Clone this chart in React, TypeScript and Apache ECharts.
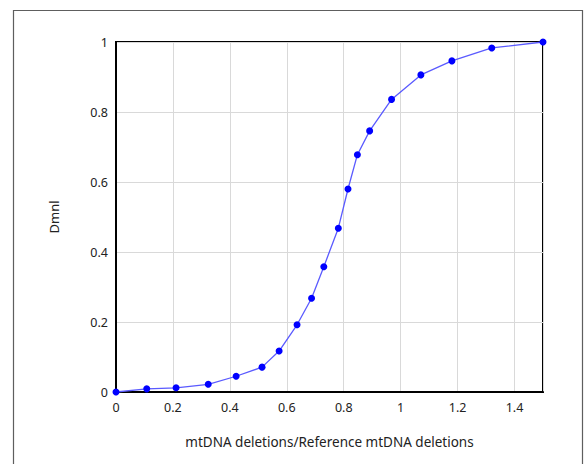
import React, { useEffect, useRef } from "react";
import * as echarts from "echarts";

const xValues = [0, 0.108, 0.211, 0.324, 0.422, 0.513, 0.573, 0.636, 0.687, 0.73, 0.781, 0.815, 0.848, 0.891, 0.968, 1.071, 1.18, 1.32, 1.5];
const yValues = [0, 0.009, 0.012, 0.022, 0.045, 0.071, 0.117, 0.192, 0.268, 0.358, 0.468, 0.58, 0.678, 0.746, 0.836, 0.906, 0.946, 0.983, 1.0];
const xTitle = "mtDNA deletions/Reference mtDNA deletions";
const yTitle = "Dmnl";

export default function App() {
  const ref = useRef<HTMLDivElement>(null);
  useEffect(() => {
    document.body.style.margin = "0";
    const chart = echarts.init(ref.current!, null, { renderer: "svg" });
    const font = "'Noto Sans', sans-serif";
    chart.setOption({
      animation: false,
      backgroundColor: "#fff",
      graphic: [
        {
          type: "rect",
          shape: { x: 13.5, y: 10.5, width: 569, height: 470 },
          style: { fill: "none", stroke: "#5e5e5e", lineWidth: 1.2 },
          silent: true,
        },
      ],
      grid: {
        left: 116,
        top: 42,
        right: 41,
        bottom: 72,
        show: true,
        borderColor: "#000",
        borderWidth: 2,
        backgroundColor: "transparent",
      },
      xAxis: {
        type: "value",
        min: 0,
        max: 1.5,
        interval: 0.2,
        name: xTitle,
        nameLocation: "middle",
        nameGap: 43,
        nameTextStyle: { color: "#222", fontSize: 13.5, fontFamily: font },
        axisLine: { show: true, lineStyle: { color: "#000", width: 2 } },
        axisTick: { show: false },
        axisLabel: { color: "#222", fontSize: 12.5, fontFamily: font, margin: 9, showMaxLabel: false },
        splitLine: { show: true, lineStyle: { color: "#d9d9d9", width: 1 } },
      },
      yAxis: {
        type: "value",
        min: 0,
        max: 1,
        interval: 0.2,
        name: yTitle,
        nameLocation: "middle",
        nameGap: 56,
        nameRotate: 90,
        nameTextStyle: { color: "#222", fontSize: 13, fontFamily: font },
        axisLine: { show: true, lineStyle: { color: "#000", width: 2 } },
        axisTick: { show: false },
        axisLabel: { color: "#222", fontSize: 12.5, fontFamily: font, margin: 8 },
        splitLine: { show: true, lineStyle: { color: "#d9d9d9", width: 1 } },
      },
      series: [
        {
          type: "line",
          data: xValues.map((x, i) => [x, yValues[i]]),
          symbol: "circle",
          symbolSize: 7,
          showSymbol: true,
          lineStyle: { color: "#5a5aff", width: 1.3 },
          itemStyle: { color: "#0000ff" },
          clip: false,
        },
      ],
    });
    return () => chart.dispose();
  }, []);
  return <div ref={ref} style={{ width: 584, height: 464 }} />;
}
